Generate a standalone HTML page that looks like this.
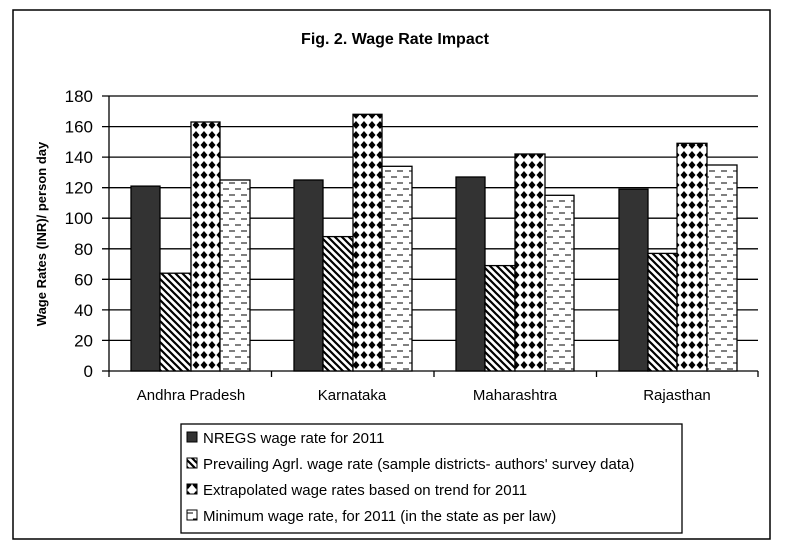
<!DOCTYPE html>
<html><head><style>body{margin:0;background:#fff}svg{display:block}text{font-family:"Liberation Sans",Arial,sans-serif}</style></head>
<body>
<svg width="791" height="552" xmlns="http://www.w3.org/2000/svg">
<defs>
<pattern id="hatch" width="7" height="7" patternUnits="userSpaceOnUse">
<rect width="7" height="7" fill="#fff"/>
<path d="M-2,-2 L9,9 M-2,5 L2,9 M5,-2 L9,2" stroke="#000" stroke-width="2.2"/>
</pattern>
<pattern id="dia" width="8" height="10" patternUnits="userSpaceOnUse" x="0" y="0">
<rect width="8" height="10" fill="#fff"/>
<path d="M4,1 L7.5,5 L4,9 L0.5,5Z" fill="#000"/>
</pattern>
<pattern id="dash" width="12" height="12" patternUnits="userSpaceOnUse">
<rect width="12" height="12" fill="#fff"/>
<path d="M1,3 H7 M7,9 H13 M-5,9 H1" stroke="#000" stroke-width="1"/>
</pattern>
</defs>
<rect x="13" y="10" width="757" height="529" fill="#fff" stroke="#000" stroke-width="1.5"/>
<text x="395" y="44" text-anchor="middle" font-size="16" font-weight="bold">Fig. 2. Wage Rate Impact</text>
<g stroke="#000" stroke-width="1.3">
<line x1="102" y1="96" x2="758" y2="96"/>
<line x1="102" y1="126.6" x2="758" y2="126.6"/>
<line x1="102" y1="157.1" x2="758" y2="157.1"/>
<line x1="102" y1="187.7" x2="758" y2="187.7"/>
<line x1="102" y1="218.2" x2="758" y2="218.2"/>
<line x1="102" y1="248.8" x2="758" y2="248.8"/>
<line x1="102" y1="279.3" x2="758" y2="279.3"/>
<line x1="102" y1="309.9" x2="758" y2="309.9"/>
<line x1="102" y1="340.4" x2="758" y2="340.4"/>
<line x1="102" y1="371" x2="758" y2="371"/>
<line x1="109" y1="96" x2="109" y2="371"/>
<line x1="109" y1="371" x2="109" y2="377"/>
<line x1="271.5" y1="371" x2="271.5" y2="377"/>
<line x1="434" y1="371" x2="434" y2="377"/>
<line x1="596.5" y1="371" x2="596.5" y2="377"/>
<line x1="758" y1="371" x2="758" y2="377"/>
</g>
<g font-size="17" text-anchor="end">
<text x="93" y="102">180</text><text x="93" y="132.6">160</text><text x="93" y="163.1">140</text><text x="93" y="193.7">120</text><text x="93" y="224.2">100</text><text x="93" y="254.8">80</text><text x="93" y="285.3">60</text><text x="93" y="315.9">40</text><text x="93" y="346.4">20</text><text x="93" y="377">0</text>
</g>
<text transform="translate(46,234) rotate(-90)" text-anchor="middle" font-size="13" font-weight="bold">Wage Rates (INR)/ person day</text>
<g font-size="15" text-anchor="middle">
<text x="191" y="400">Andhra Pradesh</text><text x="352" y="400">Karnataka</text><text x="515" y="400">Maharashtra</text><text x="677" y="400">Rajasthan</text>
</g>
<g stroke="#000" stroke-width="1.3">
<rect x="131" y="186.1" width="29" height="184.9" fill="#333"/>
<rect x="160" y="273.2" width="31" height="97.8" fill="url(#hatch)"/>
<rect x="191" y="122" width="29" height="249" fill="url(#dia)"/>
<rect x="220" y="180" width="30" height="191" fill="url(#dash)"/>

<rect x="294" y="180" width="29" height="191" fill="#333"/>
<rect x="323" y="236.6" width="30" height="134.4" fill="url(#hatch)"/>
<rect x="353" y="114.3" width="29" height="256.7" fill="url(#dia)"/>
<rect x="382" y="166.3" width="30" height="204.7" fill="url(#dash)"/>

<rect x="456" y="177" width="29" height="194" fill="#333"/>
<rect x="485" y="265.6" width="30" height="105.4" fill="url(#hatch)"/>
<rect x="515" y="154" width="30" height="217" fill="url(#dia)"/>
<rect x="545" y="195.3" width="29" height="175.7" fill="url(#dash)"/>

<rect x="619" y="189.2" width="29" height="181.8" fill="#333"/>
<rect x="648" y="253.4" width="29" height="117.6" fill="url(#hatch)"/>
<rect x="677" y="143.3" width="30" height="227.7" fill="url(#dia)"/>
<rect x="707" y="165" width="30" height="206" fill="url(#dash)"/>
</g>
<rect x="181" y="424" width="501" height="109" fill="#fff" stroke="#000" stroke-width="1.3"/>
<g stroke="#000" stroke-width="1">
<rect x="187" y="432" width="10" height="10" fill="#333"/>
<rect x="187" y="458" width="10" height="10" fill="url(#hatch)"/>
<rect x="187" y="484" width="10" height="10" fill="url(#dia)"/>
<rect x="187" y="510" width="10" height="10" fill="url(#dash)"/>
</g>
<g font-size="15">
<text x="203" y="443">NREGS wage rate for 2011</text>
<text x="203" y="469">Prevailing Agrl. wage rate (sample districts- authors' survey data)</text>
<text x="203" y="495">Extrapolated wage rates based on trend for 2011</text>
<text x="203" y="521">Minimum wage rate, for 2011 (in the state as per law)</text>
</g>
</svg>
</body></html>
